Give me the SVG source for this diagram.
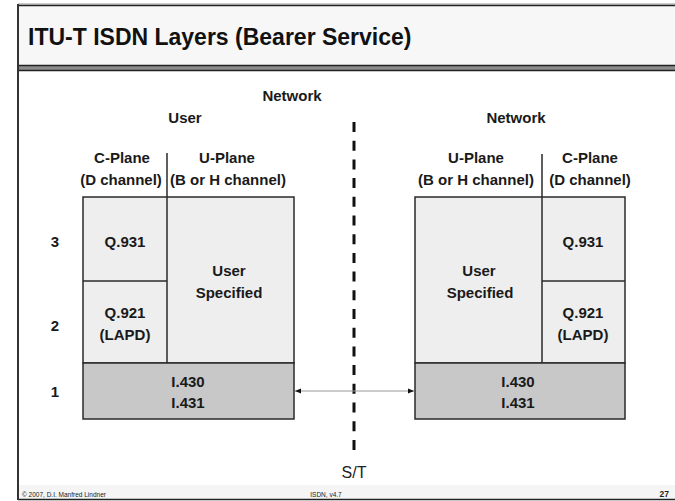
<svg xmlns="http://www.w3.org/2000/svg" width="675" height="501" viewBox="0 0 675 501">
  <style>
    .lbl { font-family: "Liberation Sans", Arial, sans-serif; font-size: 15px; font-weight: bold; fill: #1a1a1a; text-anchor: middle; }
    .box { fill: #eeeeee; stroke: #2a2a2a; stroke-width: 1.5; }
    .phy { fill: #c8c8c8; stroke: #2a2a2a; stroke-width: 1.5; }
    .div { stroke: #2a2a2a; stroke-width: 1.5; fill: none; }
    .foot { font-family: "Liberation Sans", Arial, sans-serif; font-size: 6.5px; fill: #222; }
  </style>
  <defs>
    <marker id="ah" viewBox="0 0 10 10" refX="10" refY="5" markerWidth="6" markerHeight="6" orient="auto-start-reverse" markerUnits="userSpaceOnUse">
      <path d="M0,1 L10,5 L0,9 z" fill="#111"/>
    </marker>
  </defs>

  <rect x="0" y="0" width="675" height="501" fill="#ffffff"/>

  <!-- slide frame: header band, footer band, left rule -->
  <g id="frame">
    <rect x="18" y="5" width="657" height="60" fill="#f7f7f7"/>
    <line x1="18" y1="4" x2="675" y2="4" stroke="#999" stroke-width="1"/>
    <line x1="18" y1="5.5" x2="675" y2="5.5" stroke="#222" stroke-width="1.5"/>
    <rect x="18" y="65" width="657" height="6" fill="#8c8c8c"/>
    <line x1="18" y1="65.5" x2="675" y2="65.5" stroke="#222" stroke-width="1.5"/>
    <line x1="18" y1="70.5" x2="675" y2="70.5" stroke="#222" stroke-width="1.5"/>
    <rect x="18" y="485" width="657" height="14" fill="#f5f5f5"/>
    <line x1="18" y1="499.5" x2="675" y2="499.5" stroke="#222" stroke-width="1.5"/>
    <line x1="18" y1="4" x2="18" y2="500" stroke="#333" stroke-width="2"/>
    <text x="28" y="45" font-family="'Liberation Sans', Arial, sans-serif" font-size="23" font-weight="bold" fill="#111">ITU-T ISDN Layers (Bearer Service)</text>
    <text class="foot" x="22" y="497">© 2007, D.I. Manfred Lindner</text>
    <text class="foot" x="326" y="497" text-anchor="middle">ISDN, v4.7</text>
    <text x="669" y="497" font-family="'Liberation Sans', Arial, sans-serif" font-size="8.5" font-weight="bold" fill="#222" text-anchor="end">27</text>
  </g>

  <!-- top labels -->
  <g id="labels">
    <text class="lbl" x="292" y="101">Network</text>
    <text class="lbl" x="185" y="123">User</text>
    <text class="lbl" x="516" y="123">Network</text>
    <text class="lbl" x="55" y="247">3</text>
    <text class="lbl" x="55" y="331">2</text>
    <text class="lbl" x="55" y="397">1</text>
  </g>

  <!-- user-side protocol stack -->
  <g id="user-stack">
    <rect class="box" x="83" y="197" width="211" height="166"/>
    <line class="div" x1="83" y1="281" x2="167" y2="281"/>
    <line class="div" x1="167" y1="153" x2="167" y2="363"/>
    <rect class="phy" x="83" y="363" width="211" height="56"/>
    <text class="lbl" x="122" y="163">C-Plane</text>
    <text class="lbl" x="121" y="185">(D channel)</text>
    <text class="lbl" x="227" y="163">U-Plane</text>
    <text class="lbl" x="228" y="185">(B or H channel)</text>
    <text class="lbl" x="125" y="247">Q.931</text>
    <text class="lbl" x="125" y="318">Q.921</text>
    <text class="lbl" x="125" y="340">(LAPD)</text>
    <text class="lbl" x="229" y="276">User</text>
    <text class="lbl" x="229" y="298">Specified</text>
    <text class="lbl" x="188" y="387">I.430</text>
    <text class="lbl" x="188" y="408">I.431</text>
  </g>

  <!-- network-side protocol stack -->
  <g id="network-stack">
    <rect class="box" x="415" y="197" width="210" height="166"/>
    <line class="div" x1="542" y1="281" x2="625" y2="281"/>
    <line class="div" x1="542" y1="154" x2="542" y2="363"/>
    <rect class="phy" x="415" y="363" width="210" height="56"/>
    <text class="lbl" x="476" y="163">U-Plane</text>
    <text class="lbl" x="476" y="185">(B or H channel)</text>
    <text class="lbl" x="590" y="163">C-Plane</text>
    <text class="lbl" x="590" y="185">(D channel)</text>
    <text class="lbl" x="583" y="247">Q.931</text>
    <text class="lbl" x="583" y="318">Q.921</text>
    <text class="lbl" x="583" y="340">(LAPD)</text>
    <text class="lbl" x="479" y="276">User</text>
    <text class="lbl" x="480" y="298">Specified</text>
    <text class="lbl" x="518" y="387">I.430</text>
    <text class="lbl" x="518" y="408">I.431</text>
  </g>

  <!-- S/T reference point -->
  <g id="st-point">
    <line x1="354" y1="122" x2="354" y2="456" stroke="#111" stroke-width="3" stroke-dasharray="10 8.7"/>
    <text x="354" y="478" font-family="'Liberation Sans', Arial, sans-serif" font-size="16" fill="#222" text-anchor="middle">S/T</text>
  </g>

  <!-- connectors -->
  <g id="connectors">
    <line x1="295" y1="391" x2="414" y2="391" stroke="#999" stroke-width="1" marker-start="url(#ah)" marker-end="url(#ah)"/>
  </g>
</svg>
